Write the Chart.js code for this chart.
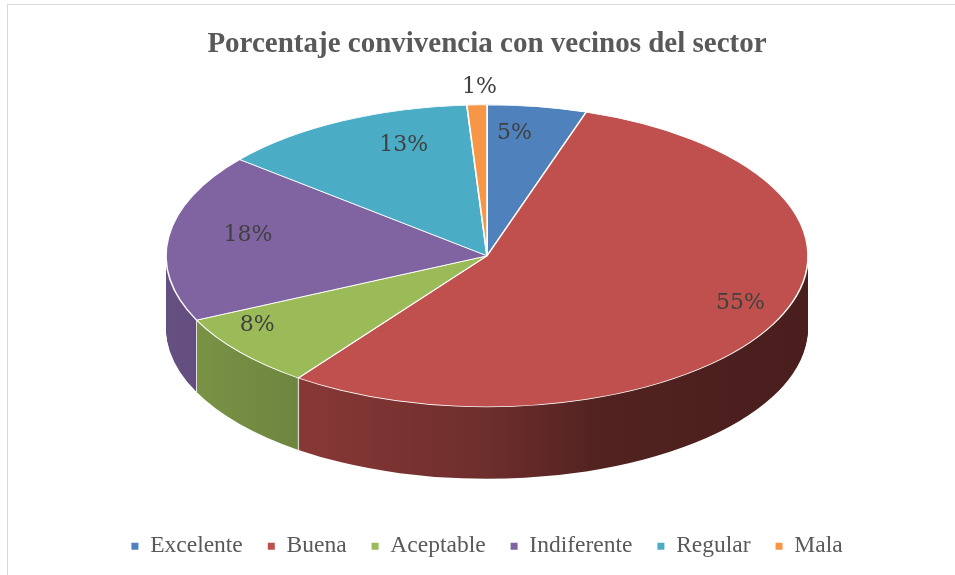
<!DOCTYPE html>
<html>
<head>
<meta charset="utf-8">
<title>Porcentaje convivencia con vecinos del sector</title>
<script src="https://cdn.jsdelivr.net/npm/chart.js@4.4.1/dist/chart.umd.min.js"></script>
<style>
  html, body { margin: 0; padding: 0; background: #fff; }
  #wrap { position: relative; width: 955px; height: 575px; overflow: hidden; }
  #frame { position: absolute; left: 7px; top: 4px; width: 1000px; height: 1000px; border: 1px solid #d9d9d9; box-sizing: border-box; pointer-events: none; }
  canvas { position: absolute; left: 0; top: 0; }
</style>
</head>
<body>
<div id="wrap">
  <canvas id="chart" width="955" height="575"></canvas>
  <div id="frame"></div>
</div>
<script>
// Data
const categories = ['Excelente', 'Buena', 'Aceptable', 'Indiferente', 'Regular', 'Mala'];
const percentages = [5, 55, 8, 18, 13, 1];
const sliceColors = ['#4F81BD', '#C0504D', '#9BBB59', '#8064A2', '#4BACC6', '#F79646'];

// 3D look: half axes of the top ellipse and thickness of the disc
const view3d = { rx: 321, ry: 151, depth: 72 };
// darkening of the side wall, left to right
const sideShade = [[0, 0.8], [0.16, 0.73], [0.5, 0.57], [0.68, 0.42], [1, 0.38]];

function shade(hex, k) {
    const n = parseInt(hex.slice(1), 16);
    const r = Math.round(((n >> 16) & 255) * k);
    const g = Math.round(((n >> 8) & 255) * k);
    const b = Math.round((n & 255) * k);
    return `rgb(${r},${g},${b})`;
}

// maps the flat pie of Chart.js onto the tilted ellipse
function projection(chart) {
    const arc = chart.getDatasetMeta(0).data[0];
    const r = arc.outerRadius;
    return {
        cx: arc.x,
        cy: arc.y,
        r: r,
        sx: view3d.rx / r,
        sy: view3d.ry / r,
        top: chart.chartArea.top + view3d.ry
    };
}

function applyView(ctx, p, dy) {
    ctx.translate(p.cx, p.top + dy);
    ctx.scale(p.sx, p.sy);
    ctx.translate(-p.cx, -p.cy);
}

const pie3d = {
    id: 'pie3d',
    beforeDatasetsDraw(chart) {
        const ctx = chart.ctx;
        const arcs = chart.getDatasetMeta(0).data;
        const p = projection(chart);

        // side wall: the same arcs stacked downwards in a darker shade
        const sideOptions = arcs.map(function(arc, i) {
            const grad = ctx.createLinearGradient(p.cx - p.r, 0, p.cx + p.r, 0);
            sideShade.forEach(function(s) {
                grad.addColorStop(s[0], shade(sliceColors[i], s[1]));
            });
            return Object.assign({}, arc.options, { backgroundColor: grad, borderWidth: 0 });
        });
        for (let d = view3d.depth; d >= 1; d--) {
            ctx.save();
            applyView(ctx, p, d);
            arcs.forEach(function(arc, i) {
                const own = arc.options;
                arc.options = sideOptions[i];
                arc.draw(ctx);
                arc.options = own;
            });
            ctx.restore();
        }

        // white seams on the wall where two slices meet at the front
        ctx.save();
        ctx.strokeStyle = 'rgba(255,255,255,0.85)';
        ctx.lineWidth = 1;
        arcs.forEach(function(arc) {
            if (Math.sin(arc.startAngle) <= 0) return;
            const x = p.cx + Math.cos(arc.startAngle) * view3d.rx;
            const y = p.top + Math.sin(arc.startAngle) * view3d.ry;
            ctx.beginPath();
            ctx.moveTo(x, y);
            ctx.lineTo(x, y + view3d.depth);
            ctx.stroke();
        });
        ctx.restore();

        // top face
        ctx.save();
        applyView(ctx, p, 0);
        arcs.forEach(function(arc) { arc.draw(ctx); });
        ctx.restore();
        return false;
    },
    afterDraw(chart) {
        const ctx = chart.ctx;
        const arcs = chart.getDatasetMeta(0).data;
        const p = projection(chart);
        ctx.save();
        ctx.font = '22px "DejaVu Serif"';
        ctx.fillStyle = '#404040';
        ctx.textAlign = 'center';
        ctx.textBaseline = 'middle';
        arcs.forEach(function(arc, i) {
            const mid = (arc.startAngle + arc.endAngle) / 2;
            const u = Math.cos(mid);
            const v = Math.sin(mid);
            // very thin slices get their label just outside the rim
            const f = percentages[i] < 3 ? 1.08 : 0.78;
            // a little perspective: labels at the back sit closer to the middle
            const x = p.cx + view3d.rx * f * u * (1 + 0.3 * v);
            const y = p.top + view3d.ry * f * v - 6;
            ctx.fillText(percentages[i] + '%', x, y);
        });
        ctx.restore();
    }
};

const pieLabels = Chart.overrides.pie.plugins.legend.labels.generateLabels;

new Chart(document.getElementById('chart'), {
    type: 'pie',
    data: {
        labels: categories,
        datasets: [{
            data: percentages,
            backgroundColor: sliceColors,
            borderColor: '#ffffff',
            borderWidth: 1
        }]
    },
    options: {
        responsive: false,
        animation: false,
        events: [],
        layout: {
            padding: { left: 19, right: 0, top: 0, bottom: 7 }
        },
        plugins: {
            title: {
                display: true,
                text: 'Porcentaje convivencia con vecinos del sector',
                color: '#595959',
                font: { family: 'Liberation Serif', size: 29, weight: 'bold' },
                padding: { top: 27, bottom: 43 }
            },
            legend: {
                position: 'bottom',
                labels: {
                    color: '#595959',
                    font: { family: 'Liberation Serif', size: 23.5 },
                    boxWidth: 7,
                    boxHeight: 7,
                    padding: 25,
                    generateLabels: function(chart) {
                        return pieLabels(chart).map(function(item) {
                            return Object.assign(item, { lineWidth: 0 });
                        });
                    }
                }
            },
            tooltip: { enabled: false }
        }
    },
    plugins: [pie3d]
});
</script>
</body>
</html>
